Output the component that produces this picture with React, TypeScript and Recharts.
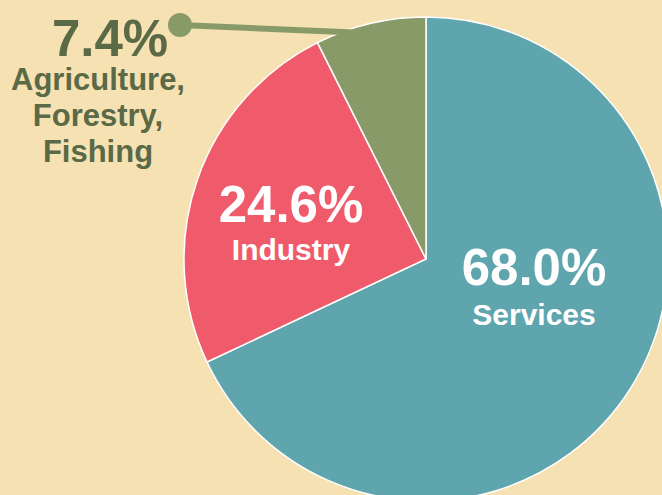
import React from "react";
import { PieChart, Pie, Cell } from "recharts";

const sectors = ["Services", "Industry", "Agriculture, Forestry, Fishing"];
const sectorLines = [["Services"], ["Industry"], ["Agriculture,", "Forestry,", "Fishing"]];
const shares = [68.0, 24.6, 7.4];
const colors = ["#5EA5AE", "#F05B6C", "#889A68"];

const BG = "#F6E1B3";
const DARK = "#5A6946";
const FONT = "'Liberation Sans', Arial, sans-serif";

const data = sectors.map((name, i) => ({ name, value: shares[i] }));

// label layout offsets relative to pie centre (layout only)
const labelLayout = [
  { dx: 108, pctY: 26, nameY: 66, nameStep: 0, fill: "#ffffff" },
  { dx: -135, pctY: -37, nameY: 1, nameStep: 0, fill: "#ffffff" },
  { dx: -316, pctY: -203, nameY: -169, nameStep: 36, fill: DARK },
];

const renderLabel = (props: any) => {
  const { cx, cy, index, value } = props;
  const l = labelLayout[index];
  const x = cx + l.dx;
  const lines = sectorLines[index];
  return (
    <g key={`lab-${index}`}>
      {index === 2 && (
        <g>
          <line x1={cx - 246} y1={cy - 234} x2={cx - 60} y2={cy - 226} stroke="#889A68" strokeWidth={6} />
          <circle cx={cx - 246} cy={cy - 234} r={12} fill="#889A68" />
        </g>
      )}
      <text x={x} y={cy + l.pctY} textAnchor="middle" fill={l.fill} fontFamily={FONT} fontWeight={700} fontSize={51}>
        {`${value.toFixed(1)}%`}
      </text>
      {lines.map((t, j) => (
        <text
          key={j}
          x={x - (index === 2 ? 12 : 0)}
          y={cy + l.nameY + j * l.nameStep}
          textAnchor="middle"
          fill={l.fill}
          fontFamily={FONT}
          fontWeight={700}
          fontSize={index === 2 ? 31 : 30}
        >
          {t}
        </text>
      ))}
    </g>
  );
};

export default function App() {
  return (
    <div style={{ position: "fixed", left: 0, top: 0, width: 662, height: 495, background: BG, overflow: "hidden" }}>
      <PieChart width={662} height={495} margin={{ top: 0, right: 0, bottom: 0, left: 0 }}>
        <Pie
          data={data}
          dataKey="value"
          nameKey="name"
          cx={426}
          cy={259}
          outerRadius={242}
          startAngle={90}
          endAngle={-270}
          stroke="#ffffff"
          strokeWidth={1.5}
          label={renderLabel}
          labelLine={false}
          isAnimationActive={false}
        >
          {data.map((d, i) => (
            <Cell key={d.name} fill={colors[i]} />
          ))}
        </Pie>
      </PieChart>
    </div>
  );
}
